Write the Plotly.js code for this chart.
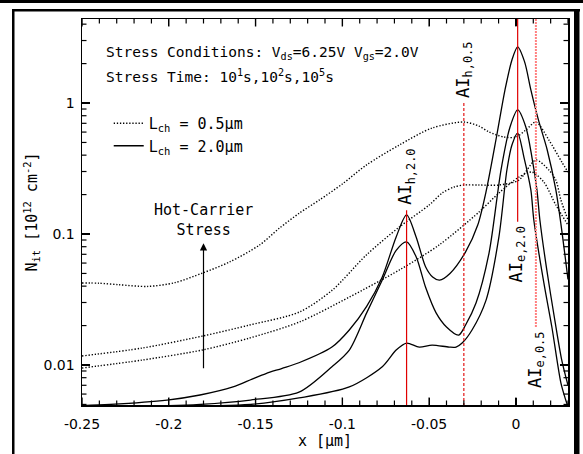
<!DOCTYPE html>
<html>
<head>
<meta charset="utf-8">
<script src="https://cdn.plot.ly/plotly-3.0.1.min.js"></script>
<style>
html,body{margin:0;padding:0;background:#fff;}
#chart{width:583px;height:454px;}
</style>
</head>
<body>
<div id="chart"></div>
<script>
// ---- data: L_ch = 0.5 um (dotted), stress 1e5 s, 1e2 s, 1e1 s ----
const xD1 = [-0.25,-0.24,-0.2287,-0.212,-0.1966,-0.1805,-0.165,-0.1477,-0.1362,-0.1247,-0.1132,-0.1,-0.0862,-0.0672,-0.0483,-0.0299,-0.0213,-0.0155,-0.0069,0,0.0057,0.0115,0.019,0.0264,0.03];
const yD1 = [0.0423,0.0421,0.041,0.0398,0.0425,0.0504,0.0611,0.0824,0.111,0.1446,0.182,0.241,0.336,0.478,0.644,0.716,0.667,0.601,0.55,0.55,0.622,0.716,0.522,0.355,0.297];

const xD2 = [-0.25,-0.215,-0.1805,-0.1534,-0.1247,-0.1057,-0.0862,-0.0672,-0.05,-0.0425,-0.0356,-0.0299,-0.0213,-0.0098,0.0017,0.0115,0.019,0.023,0.0259,0.03];
const yD2 = [0.01172,0.01349,0.01664,0.0202,0.0254,0.0374,0.0691,0.113,0.1665,0.2056,0.2285,0.2366,0.2366,0.2366,0.258,0.367,0.308,0.258,0.182,0.128];

const xD3 = [-0.25,-0.215,-0.1805,-0.1534,-0.1247,-0.096,-0.0672,-0.0443,-0.0213,-0.0098,0.0017,0.0092,0.0161,0.023,0.03];
const yD3 = [0.00948,0.01092,0.01303,0.01607,0.0213,0.033,0.0531,0.0824,0.147,0.2056,0.272,0.297,0.249,0.1665,0.117];

// ---- data: L_ch = 2.0 um (solid), stress 1e5 s, 1e2 s, 1e1 s ----
const xS1 = [-0.25,-0.234,-0.201,-0.182,-0.163,-0.152,-0.144,-0.135,-0.125,-0.106,-0.096,-0.086,-0.077,-0.069,-0.063,-0.0575,-0.052,-0.048,-0.044,-0.038,-0.029,-0.022,-0.017,-0.011,-0.0063,-0.0023,0.001,0.005,0.0086,0.013,0.018,0.023,0.026,0.03];
const yS1 = [0.0049,0.005,0.0054,0.0059,0.0068,0.0078,0.0086,0.0094,0.0104,0.0137,0.0185,0.028,0.047,0.095,0.14,0.095,0.056,0.047,0.0445,0.05,0.073,0.117,0.217,0.57,1.26,2.13,2.68,2.06,1.26,0.74,0.44,0.217,0.117,0.045];

const xS2 = [-0.25,-0.2,-0.182,-0.153,-0.125,-0.106,-0.096,-0.086,-0.077,-0.069,-0.063,-0.0575,-0.052,-0.046,-0.04,-0.033,-0.029,-0.023,-0.0155,-0.0086,-0.0034,0.001,0.0057,0.0092,0.0121,0.0138,0.0178,0.0224,0.0264,0.03];
const yS2 = [0.0049,0.0049,0.005,0.0054,0.0062,0.0097,0.013,0.025,0.0445,0.075,0.087,0.067,0.039,0.025,0.0195,0.0169,0.0202,0.0297,0.0716,0.308,0.656,0.885,0.656,0.387,0.217,0.128,0.053,0.022,0.0109,0.007];

const xS3 = [-0.25,-0.153,-0.125,-0.096,-0.077,-0.069,-0.063,-0.0557,-0.0483,-0.0385,-0.0345,-0.031,-0.0253,-0.0172,-0.0098,-0.0052,-0.0023,0.001,0.0046,0.0086,0.0103,0.0161,0.0207,0.0259,0.0287,0.03];
const yS3 = [0.0048,0.005,0.0056,0.0068,0.0097,0.013,0.0147,0.0137,0.0142,0.0137,0.0137,0.0147,0.0185,0.0313,0.095,0.308,0.478,0.59,0.387,0.217,0.128,0.0423,0.0195,0.0073,0.0054,0.0048];

// ---- AI markers (vertical lines) ----
const aiLabels = ['AI<sub>h,2.0</sub>','AI<sub>h,0.5</sub>','AI<sub>e,2.0</sub>','AI<sub>e,0.5</sub>'];
const aiX  = [-0.063, -0.030, 0.001, 0.0115];
const aiLo = [0.001, 0.001, 0.124, 0.0195];
const aiHi = [0.152, 1.0, 10, 10];

// ---- arrow (hot-carrier stress) ----
const arrowX = -0.18;
const arrowFrom = 0.0092;
const arrowTo = 0.085;

// ---- ticks ----
const xRange = [-0.25, 0.03];
const yRange = [0.00495, 4.38];
const xTickVals = [-0.25,-0.2,-0.15,-0.1,-0.05,0];
const xTickText = ['-0.25','-0.2','-0.15','-0.1','-0.05','0'];
const yTickVals = [0.01,0.1,1];
const yTickText = ['0.01','0.1','1'];

const legendNames = ['L<sub>ch</sub> = 0.5μm','L<sub>ch</sub> = 2.0μm'];

// minor tick positions (every 0.01 on x, 2..9 per decade on y)
const xMinor = [];
for (let k = -25; k <= 3; k++) { if (k % 5 !== 0) xMinor.push(k / 100); }
const yMinor = [];
[0.001, 0.01, 0.1, 1].forEach(function(d){ for (let m = 2; m <= 9; m++) { const v = m * d; if (v >= yRange[0] && v <= yRange[1]) yMinor.push(v); } });

const MONO = 'DejaVu Sans Mono';
const SANS = 'DejaVu Sans';

const traces = [];
function curve(x, y, dash, legendName){
  traces.push({
    x: x, y: y, type: 'scatter', mode: 'lines',
    line: {color: '#000', width: dash === 'solid' ? 1.3 : 1.4, dash: dash, shape: 'spline', smoothing: 0.8},
    name: legendName || '', showlegend: !!legendName, hoverinfo: 'skip'
  });
}
const DOT = '1.3px,1.8px';
curve(xD1, yD1, DOT, legendNames[0]);
curve(xD2, yD2, DOT);
curve(xD3, yD3, DOT);
curve(xS1, yS1, 'solid', legendNames[1]);
curve(xS2, yS2, 'solid');
curve(xS3, yS3, 'solid');

const aiStyle = [
  {color:'#e00000', width:1.2, dash:'solid'},
  {color:'#e00000', width:1.1, dash:'3px,2px'},
  {color:'#e00000', width:1.2, dash:'solid'},
  {color:'#ff8080', width:2, dash:'2px,1px'}
];
for (let i = 0; i < aiX.length; i++) {
  traces.push({
    x: [aiX[i], aiX[i]], y: [aiLo[i], aiHi[i]], type: 'scatter', mode: 'lines',
    line: aiStyle[i], showlegend: false, hoverinfo: 'skip'
  });
}

// ---- inward tick marks on all four sides, drawn as line traces on the same axes ----
const L = 82, T = 19, PW = 486, PH = 386;
const yLo = Math.log10(yRange[0]), yHi = Math.log10(yRange[1]);
const pxPerX = PW / (xRange[1] - xRange[0]);
const pxPerDecade = PH / (yHi - yLo);
function tickTrace(xv, yv, len, w){
  const tx = [], ty = [];
  const f = Math.pow(10, len / pxPerDecade);
  xv.forEach(function(v){
    tx.push(v, v, null, v, v, null);
    ty.push(yRange[0], yRange[0] * f, null, yRange[1] / f, yRange[1], null);
  });
  const dx = len / pxPerX;
  yv.forEach(function(v){
    tx.push(xRange[0], xRange[0] + dx, null, xRange[1] - dx, xRange[1], null);
    ty.push(v, v, null, v, v, null);
  });
  traces.push({x: tx, y: ty, type: 'scatter', mode: 'lines', connectgaps: false,
               line: {color: '#000', width: w}, showlegend: false, hoverinfo: 'skip'});
}
tickTrace(xTickVals, yTickVals, 7.5, 1.4);
tickTrace(xMinor, yMinor, 4.5, 1.2);

const annotations = [
  {xref:'paper', yref:'paper', x:0.045, y:0.913, xanchor:'left', yanchor:'middle', showarrow:false,
   text:'Stress Conditions: V<sub>ds</sub>=6.25V V<sub>gs</sub>=2.0V', font:{family:MONO, size:14.5, color:'#000'}},
  {xref:'paper', yref:'paper', x:0.045, y:0.852, xanchor:'left', yanchor:'middle', showarrow:false,
   text:'Stress Time: 10<sup>1</sup>s,10<sup>2</sup>s,10<sup>5</sup>s', font:{family:MONO, size:14.5, color:'#000'}},
  {xref:'x', yref:'y', x:arrowX, y:Math.log10(0.127), showarrow:false, align:'center',
   text:'Hot-Carrier<br>Stress', font:{family:MONO, size:15, color:'#000'}},
  {xref:'x', yref:'y', axref:'x', ayref:'y', x:arrowX, y:Math.log10(arrowTo), ax:arrowX, ay:Math.log10(arrowFrom),
   text:'', showarrow:true, arrowhead:2, arrowsize:1.2, arrowwidth:1.2, arrowcolor:'#000'}
];
for (let i = 0; i < aiX.length; i++) {
  const top = i < 2;
  annotations.push({
    xref:'x', yref:'y', x:aiX[i], y:Math.log10(top ? aiHi[i] : aiLo[i]),
    xanchor:'center', yanchor: top ? 'bottom' : 'top', yshift: top ? 3 : -3,
    textangle:-90, showarrow:false, text:aiLabels[i],
    font:{family:MONO, size:17, color:'#000'}
  });
}

// frame around the figure (paper coordinates computed from pixel layout)
function px2x(p){ return (p - L) / PW; }
function py2y(p){ return (T + PH - p) / PH; }
function rect(x0,y0,x1,y1){
  return {type:'rect', xref:'paper', yref:'paper', x0:px2x(x0), x1:px2x(x1), y0:py2y(y0), y1:py2y(y1),
          fillcolor:'#000', line:{width:0}, layer:'above'};
}
const shapes = [
  rect(0,0,583,3),
  rect(12,9,580,11.5),
  rect(12,9,14.5,454),
  rect(574,9,579.5,454)
];

const layout = {
  width:583, height:454,
  margin:{l:L, r:583 - L - PW, t:T, b:454 - T - PH, pad:0},
  paper_bgcolor:'#fff', plot_bgcolor:'rgba(0,0,0,0)',
  showlegend:true,
  legend:{x:0.055, y:0.772, xanchor:'left', yanchor:'top', bgcolor:'rgba(0,0,0,0)',
          font:{family:MONO, size:15, color:'#000'}, tracegroupgap:0, itemwidth:30},
  xaxis:{
    range:xRange, tickmode:'array', tickvals:xTickVals, ticktext:xTickText,
    ticks:'inside', ticklen:7, tickwidth:1.2, tickcolor:'#000',
    showline:true, linecolor:'#000', linewidth:1.5, mirror:'ticks',
    showgrid:false, zeroline:false,
    tickfont:{family:SANS, size:14, color:'#000'},
    title:{text:'x [μm]', font:{family:MONO, size:15, color:'#000'}, standoff:4},
    ticklabelstandoff:6
  },
  yaxis:{
    type:'log', range:[yLo, yHi],
    tickmode:'array', tickvals:yTickVals, ticktext:yTickText,
    ticks:'inside', ticklen:8, tickwidth:1.2, tickcolor:'#000',
    showline:true, linecolor:'#000', linewidth:1.5, mirror:'ticks',
    showgrid:false, zeroline:false,
    tickfont:{family:SANS, size:14, color:'#000'},
    ticklabelstandoff:3,
    title:{text:'N<sub>it</sub> [10<sup>12</sup> cm<sup>-2</sup>]', font:{family:MONO, size:15, color:'#000'}, standoff:2}
  },
  annotations:annotations,
  shapes:shapes
};

Plotly.newPlot('chart', traces, layout, {staticPlot:true, displayModeBar:false});
</script>
</body>
</html>
